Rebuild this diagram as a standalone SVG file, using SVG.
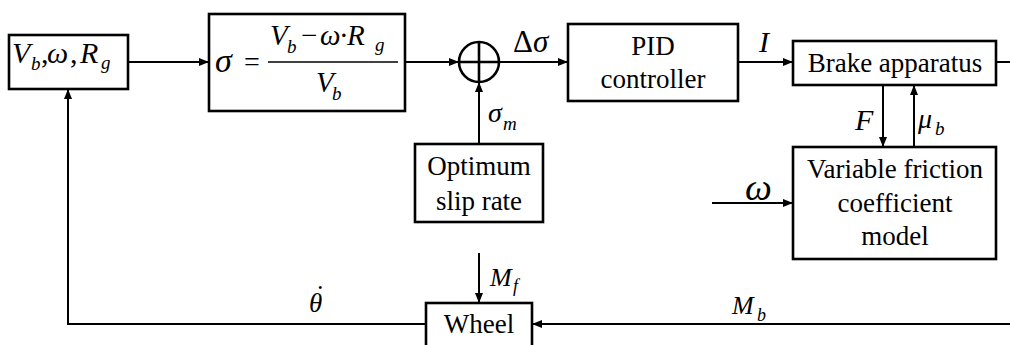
<svg xmlns="http://www.w3.org/2000/svg" width="1010" height="345" viewBox="0 0 1010 345">
<defs>
<marker id="ah" markerUnits="userSpaceOnUse" markerWidth="10" markerHeight="8" refX="10" refY="4" orient="auto">
<path d="M0,0 L10,4 L0,8 z" fill="#000"/>
</marker>
<style>
.box{fill:#fff;stroke:#000;stroke-width:2.6}
.ln{fill:none;stroke:#000;stroke-width:2}
.t{font-family:"Liberation Serif","Times New Roman",serif;font-size:27px;fill:#000;text-anchor:middle}
.m{font-family:"Liberation Serif","Times New Roman",serif;font-style:italic;font-size:28px;fill:#000}
.s{font-size:19px}
.u{font-style:normal}
</style>
</defs>
<rect width="1010" height="345" fill="#fff"/>
<g id="connectors">
<line class="ln" x1="128" y1="62" x2="209" y2="62" marker-end="url(#ah)"/>
<line class="ln" x1="405" y1="62" x2="459" y2="62" marker-end="url(#ah)"/>
<line class="ln" x1="499" y1="62" x2="568" y2="62" marker-end="url(#ah)"/>
<line class="ln" x1="479" y1="144" x2="479" y2="82" marker-end="url(#ah)"/>
<line class="ln" x1="738" y1="62" x2="793" y2="62" marker-end="url(#ah)"/>
<line class="ln" x1="996" y1="62" x2="1010" y2="62"/>
<line class="ln" x1="883" y1="85" x2="883" y2="147" marker-end="url(#ah)"/>
<line class="ln" x1="914" y1="147" x2="914" y2="85" marker-end="url(#ah)"/>
<line class="ln" x1="712" y1="203" x2="793" y2="203" marker-end="url(#ah)"/>
<line class="ln" x1="479" y1="253" x2="479" y2="303" marker-end="url(#ah)"/>
<line class="ln" x1="1010" y1="324" x2="532" y2="324" marker-end="url(#ah)"/>
<polyline class="ln" points="426,324 68,324 68,89" marker-end="url(#ah)"/>
<text class="m" x="513" y="52" style="font-size:31px"><tspan class="u">Δ</tspan>σ</text>
<text class="m" x="759" y="52" style="font-size:30px">I</text>
<text class="m" x="855" y="130" style="font-size:30px">F</text>
<text class="m" x="918" y="128">μ<tspan class="s" x="935" y="135">b</tspan></text>
<text class="m" x="745" y="200" style="font-size:38px">ω</text>
<text class="m" x="488" y="122">σ<tspan class="s" x="503" y="130">m</tspan></text>
<text class="m" x="490" y="286" style="font-size:26px">M<tspan class="s" x="513" y="292" style="font-size:18px">f</tspan></text>
<text class="m" x="309" y="312" style="font-size:27px">θ<tspan x="314" y="304">˙</tspan></text>
<text class="m" x="732" y="314" style="font-size:26px">M<tspan class="s" x="757" y="321" style="font-size:18px">b</tspan></text>
</g>
<g id="input">
<rect class="box" x="9" y="35" width="119" height="54"/>
<text class="m" x="12" y="63" style="font-size:30px">V<tspan class="s" x="31" y="70">b</tspan><tspan class="u" x="41" y="63">,</tspan><tspan x="47" y="63">ω</tspan><tspan class="u" x="70" y="63">,</tspan><tspan x="80" y="63">R</tspan><tspan class="s" x="101" y="69">g</tspan></text>
</g>
<g id="slip">
<rect class="box" x="209" y="14" width="196" height="97"/>
<text class="m" x="215" y="72" style="font-size:34px">σ</text>
<text class="m u" x="244" y="71" style="font-style:normal">=</text>
<text class="m" x="270" y="45" style="font-size:29px">V<tspan class="s" x="287" y="53">b</tspan><tspan class="u" x="301" y="45">−</tspan><tspan x="320" y="45">ω</tspan><tspan class="u" x="339" y="45">·</tspan><tspan x="347" y="45">R</tspan><tspan class="s" x="375" y="51">g</tspan></text>
<line x1="268" y1="62" x2="398" y2="62" stroke="#000" stroke-width="1.5"/>
<text class="m" x="316" y="92" style="font-size:29px">V<tspan class="s" x="332" y="100">b</tspan></text>
</g>
<g id="sum">
<circle cx="479" cy="62" r="20" fill="#fff" stroke="#000" stroke-width="2.6"/>
<line x1="459" y1="62" x2="499" y2="62" stroke="#000" stroke-width="2.6"/>
<line x1="479" y1="42" x2="479" y2="82" stroke="#000" stroke-width="2.6"/>
</g>
<g id="pid">
<rect class="box" x="568" y="24" width="170" height="77"/>
<text class="t" x="653" y="55">PID</text>
<text class="t" x="653" y="88">controller</text>
</g>
<g id="brake">
<rect class="box" x="793" y="41" width="203" height="44"/>
<text class="t" x="895" y="72">Brake apparatus</text>
</g>
<g id="friction">
<rect class="box" x="793" y="147" width="203" height="112"/>
<text class="t" x="895" y="178">Variable friction</text>
<text class="t" x="895" y="212">coefficient</text>
<text class="t" x="895" y="245">model</text>
</g>
<g id="optimum">
<rect class="box" x="415" y="144" width="128" height="78"/>
<text class="t" x="479" y="175">Optimum</text>
<text class="t" x="479" y="210">slip rate</text>
</g>
<g id="wheel">
<rect class="box" x="426" y="303" width="106" height="50"/>
<text class="t" x="479" y="333">Wheel</text>
</g>
</svg>
